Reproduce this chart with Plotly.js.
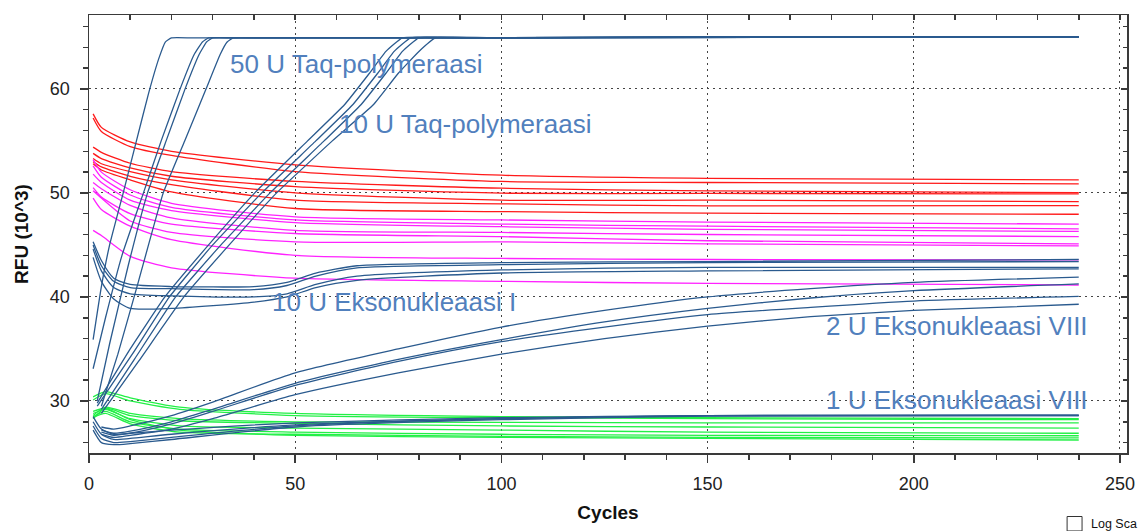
<!DOCTYPE html>
<html>
<head>
<meta charset="utf-8">
<script src="https://cdn.plot.ly/plotly-3.0.1.min.js"></script>
<style>html,body{margin:0;padding:0;background:#fff;}#chart{width:1140px;height:531px;}</style>
</head>
<body>
<div id="chart"></div>
<script>
// ---- data ----
const cycFlat = [1, 3, 10, 20, 50, 100, 150, 240];
const red1 = [57.6, 56.3, 54.9, 54.0, 52.7, 51.7, 51.4, 51.25];
const red2 = [57.2, 55.9, 54.45, 53.6, 52.05, 51.1, 51.0, 50.87];
const red3 = [54.4, 53.9, 52.85, 52.05, 51.1, 50.45, 50.2, 50.03];
const red4 = [53.8, 53.3, 52.4, 51.6, 50.6, 49.97, 49.95, 49.9];
const red5 = [53.3, 52.8, 52.05, 51.25, 50.0, 49.3, 49.3, 49.16];
const red6 = [53.0, 52.5, 51.6, 50.8, 49.3, 48.95, 48.75, 48.78];
const red7 = [52.8, 52.2, 51.25, 50.1, 48.5, 48.2, 48.05, 47.95];

const mag1 = [53.2, 52.0, 50.3, 49.0, 47.7, 47.4, 47.2, 47.0];
const mag2 = [52.6, 51.5, 49.8, 48.6, 47.4, 47.0, 46.8, 46.55];
const mag3 = [51.8, 51.0, 49.3, 48.3, 47.15, 46.75, 46.5, 46.3];
const mag4 = [51.0, 50.4, 48.8, 47.6, 46.4, 46.2, 46.0, 45.8];
const mag5 = [50.5, 49.6, 48.0, 47.0, 46.1, 45.8, 45.4, 45.1];
const mag6 = [50.2, 49.5, 47.3, 46.2, 45.3, 45.3, 45.1, 44.9];
const mag7 = [49.5, 48.4, 46.8, 45.5, 44.0, 43.7, 43.6, 43.56];
const mag8 = [46.4, 45.9, 43.9, 42.8, 41.8, 41.5, 41.3, 41.15];

const cycGreen = [1, 4, 10, 22, 50, 100, 150, 240];
const grn1 = [30.4, 30.9, 30.3, 29.4, 28.8, 28.5, 28.4, 28.3];
const grn2 = [30.1, 30.7, 30.0, 29.2, 28.6, 28.4, 28.3, 28.2];
const grn3 = [28.6, 29.4, 28.8, 28.3, 28.0, 27.95, 27.9, 27.9];
const grn4 = [28.3, 29.3, 28.6, 28.1, 27.85, 27.6, 27.5, 27.4];
const grn5 = [28.8, 29.2, 28.3, 27.6, 27.4, 27.2, 27.0, 26.9];
const grn6 = [28.5, 29.0, 28.0, 27.3, 27.0, 26.8, 26.7, 26.66];
const grn7 = [29.0, 29.3, 28.2, 27.2, 26.7, 26.5, 26.4, 26.25];
const grn8 = [28.4, 28.8, 27.8, 27.0, 26.8, 26.6, 26.5, 26.45];

// 50 U Taq-polymeraasi
const taq50aX = [1, 3, 5, 8.3, 11.5, 14.4, 17, 18.5, 20, 25, 60, 240];
const taq50aY = [35.9, 41, 45, 50, 55, 59.5, 63, 64.5, 64.9, 64.9, 64.9, 65.0];
const taq50bX = [1, 4, 8, 13.2, 17.5, 22.1, 25.5, 27.5, 29, 35, 80, 240];
const taq50bY = [33.1, 38, 44, 50, 55, 60, 63.3, 64.5, 64.9, 64.9, 64.9, 65.0];
const taq50cX = [2, 5, 9.5, 14.2, 18.7, 23.3, 26.7, 28.5, 30, 36, 80, 240];
const taq50cY = [30, 35.5, 43, 50, 55, 60, 63.3, 64.5, 64.9, 64.9, 64.9, 65.0];
const taq50dX = [3, 7, 12, 18, 23.2, 28.4, 31.8, 33.5, 35, 42, 90, 240];
const taq50dY = [29.5, 34.5, 41.5, 50, 55, 60, 63.3, 64.5, 64.9, 64.9, 64.9, 65.0];

// 10 U Taq-polymeraasi
const taq10Y = [29.8, 35, 40, 45, 50, 55, 58.5, 61.5, 63.6, 64.9, 64.9, 65.0, 65.0];
const taq10aX = [2, 10, 18.4, 29, 40.2, 53, 62, 68, 72, 76, 90, 150, 240];
const taq10bX = [2, 10.5, 19.5, 30, 41.9, 55, 64, 70, 74, 78, 92, 150, 240];
const taq10bY = [29.5, 34.5, 40, 45, 50, 55, 58.5, 61.5, 63.6, 64.9, 64.9, 65.0, 65.0];
const taq10cX = [3, 11, 21, 32, 43.9, 57, 66, 72, 76, 80, 95, 150, 240];
const taq10cY = [29.2, 34, 40, 45, 50, 55, 58.5, 61.5, 63.6, 64.9, 64.9, 65.0, 65.0];
const taq10dX = [3, 12, 23, 34, 45.5, 59, 69, 75, 80, 84, 100, 150, 240];
const taq10dY = [28.8, 33.8, 40, 45, 50, 55, 58.5, 61.5, 63.6, 64.9, 64.9, 65.0, 65.0];

// 10 U Eksonukleaasi I
const exo1X = [1, 3, 6, 10, 20, 40, 48, 55, 65, 100, 150, 240];
const exo1a = [45.3, 43.5, 41.8, 41.2, 41.0, 41.0, 41.4, 42.3, 43.0, 43.3, 43.4, 43.6];
const exo1b = [45.0, 43.0, 41.5, 40.9, 40.8, 40.7, 41.1, 42.0, 42.8, 43.1, 43.3, 43.4];
const exo1c = [44.6, 42.5, 40.9, 40.3, 40.1, 40.0, 40.3, 41.2, 42.0, 42.6, 42.85, 42.85];
const exo1d = [43.8, 41.5, 39.8, 38.9, 38.9, 39.5, 40.0, 40.9, 41.6, 42.3, 42.5, 42.7];

// 2 U Eksonukleaasi VIII
const exo8twoX = [3, 6, 10, 20, 30, 50, 75, 100, 125, 150, 175, 200, 240];
const exo8two_a = [27.5, 27.3, 27.6, 28.6, 29.9, 32.7, 35.0, 37.1, 38.7, 40.0, 40.8, 41.4, 41.9];
const exo8two_b = [27.2, 26.9, 27.1, 28.0, 29.2, 31.7, 34.0, 35.9, 37.6, 38.9, 39.9, 40.6, 41.25];
const exo8two_c = [27.0, 26.7, 26.9, 27.8, 29.0, 31.5, 33.8, 35.7, 37.1, 38.3, 39.0, 39.6, 40.05];
const exo8two_d = [26.8, 26.5, 26.7, 27.3, 28.3, 30.6, 32.7, 34.5, 36.0, 37.2, 38.1, 38.7, 39.3];

// 1 U Eksonukleaasi VIII
const exo8oneX = [1, 3, 6, 10, 20, 50, 100, 150, 240];
const exo8one_a = [28.5, 27.3, 26.8, 26.9, 27.2, 27.9, 28.4, 28.6, 28.65];
const exo8one_b = [28.0, 26.8, 26.3, 26.4, 26.8, 27.7, 28.3, 28.6, 28.65];
const exo8one_c = [27.6, 26.4, 26.0, 26.1, 26.5, 27.6, 28.3, 28.6, 28.6];
const exo8one_d = [27.2, 26.0, 25.8, 25.9, 26.3, 27.5, 28.2, 28.55, 28.6];

const labels = ['50 U Taq-polymeraasi', '10 U Taq-polymeraasi', '10 U Eksonukleaasi I',
                '2 U Eksonukleaasi VIII', '1 U Eksonukleaasi VIII'];

// ---- traces ----
const RED = '#ff1a1a', MAG = '#ff22ff', GRN = '#22f046', BLUE = '#2a5a8e';
function tr(x, y, color, sm) {
  return {x: x, y: y, type: 'scatter', mode: 'lines', hoverinfo: 'skip', showlegend: false,
          line: {color: color, width: 1.3, shape: 'spline', smoothing: sm === undefined ? 0.6 : sm}};
}
const traces = [];
[red1, red2, red3, red4, red5, red6, red7].forEach(y => traces.push(tr(cycFlat, y, RED)));
[mag1, mag2, mag3, mag4, mag5, mag6, mag7, mag8].forEach(y => traces.push(tr(cycFlat, y, MAG)));
[grn1, grn2, grn3, grn4, grn5, grn6, grn7, grn8].forEach(y => traces.push(tr(cycGreen, y, GRN)));
[[taq50aX, taq50aY], [taq50bX, taq50bY], [taq50cX, taq50cY], [taq50dX, taq50dY],
 [taq10aX, taq10Y], [taq10bX, taq10bY], [taq10cX, taq10cY], [taq10dX, taq10dY]]
  .forEach(p => traces.push(tr(p[0], p[1], BLUE, 0.35)));
[exo1a, exo1b, exo1c, exo1d].forEach(y => traces.push(tr(exo1X, y, BLUE)));
[exo8two_a, exo8two_b, exo8two_c, exo8two_d].forEach(y => traces.push(tr(exo8twoX, y, BLUE)));
[exo8one_a, exo8one_b, exo8one_c, exo8one_d].forEach(y => traces.push(tr(exo8oneX, y, BLUE)));
// carrier for the inner (top/right) tick axes
traces.push({x: [null], y: [null], xaxis: 'x2', yaxis: 'y2', type: 'scatter', mode: 'lines',
             showlegend: false, hoverinfo: 'skip'});

const FONT = 'Liberation Sans, Arial, sans-serif';
const ANN_C = '#5180bd';
const annPos = [
  {x: 33.7, y: 62.4, xa: 'left'},
  {x: 60.1, y: 56.6, xa: 'left'},
  {x: 43.9, y: 39.5, xa: 'left'},
  {x: 242.7, y: 37.2, xa: 'right'},
  {x: 242.7, y: 30.1, xa: 'right'}
];
const annotations = labels.map((t, i) => ({
  text: t, x: annPos[i].x, y: annPos[i].y, xref: 'x', yref: 'y', xanchor: annPos[i].xa,
  yanchor: 'middle', showarrow: false, font: {family: FONT, size: 26, color: ANN_C}
}));
annotations.push({text: 'Log Sca', xref: 'paper', yref: 'paper', x: 0.9634, y: -0.162,
  xanchor: 'left', yanchor: 'middle', showarrow: false, font: {family: FONT, size: 12.5, color: '#111'}});

const axCommon = {
  showline: true, linecolor: '#3a3a3a', linewidth: 1.5, zeroline: false,
  ticks: 'outside', ticklen: 8, tickwidth: 1.5, tickcolor: '#3a3a3a',
  showgrid: true, gridcolor: '#444', gridwidth: 1, griddash: '2px,4px',
  tickfont: {family: FONT, size: 18, color: '#222'}
};

const layout = {
  width: 1140, height: 531,
  margin: {l: 89, r: 13, t: 15, b: 78, pad: 0},
  paper_bgcolor: '#fff', plot_bgcolor: '#fff',
  xaxis: Object.assign({}, axCommon, {
    range: [0, 251.7], tick0: 0, dtick: 50, ticklabelstandoff: 6,
    minor: {dtick: 10, ticks: 'outside', ticklen: 5, tickwidth: 1.5, tickcolor: '#3a3a3a', showgrid: false},
    title: {text: '<b>Cycles</b>', standoff: 12, font: {family: FONT, size: 19, color: '#111'}}
  }),
  yaxis: Object.assign({}, axCommon, {
    range: [25, 67.1], tick0: 0, dtick: 10, ticklabelstandoff: 6,
    minor: {dtick: 2, ticks: 'outside', ticklen: 5, tickwidth: 1.5, tickcolor: '#3a3a3a', showgrid: false},
    title: {text: '<b>RFU (10^3)</b>', standoff: 16, font: {family: FONT, size: 19, color: '#111'}}
  }),
  xaxis2: {overlaying: 'x', matches: 'x', side: 'top', anchor: 'y2', showline: true, linecolor: '#3a3a3a',
    linewidth: 1.5, ticks: 'inside', ticklen: 5, tickwidth: 1.5, tickcolor: '#3a3a3a', showticklabels: false,
    showgrid: false, zeroline: false, tick0: 0, dtick: 50,
    minor: {dtick: 10, ticks: 'inside', ticklen: 5, tickwidth: 1.5, tickcolor: '#3a3a3a', showgrid: false}},
  yaxis2: {overlaying: 'y', matches: 'y', side: 'right', anchor: 'x2', showline: true, linecolor: '#3a3a3a',
    linewidth: 1.5, ticks: 'inside', ticklen: 6, tickwidth: 1.5, tickcolor: '#3a3a3a', showticklabels: false,
    showgrid: false, zeroline: false, tick0: 0, dtick: 10,
    minor: {dtick: 2, ticks: 'inside', ticklen: 4, tickwidth: 1.5, tickcolor: '#3a3a3a', showgrid: false}},
  shapes: [{type: 'rect', xref: 'paper', yref: 'paper', x0: 0.9423, x1: 0.9567, y0: -0.178, y1: -0.145,
            line: {color: '#333', width: 1}, fillcolor: '#fff'}],
  annotations: annotations
};

Plotly.newPlot('chart', traces, layout, {displayModeBar: false, staticPlot: true});
</script>
</body>
</html>
